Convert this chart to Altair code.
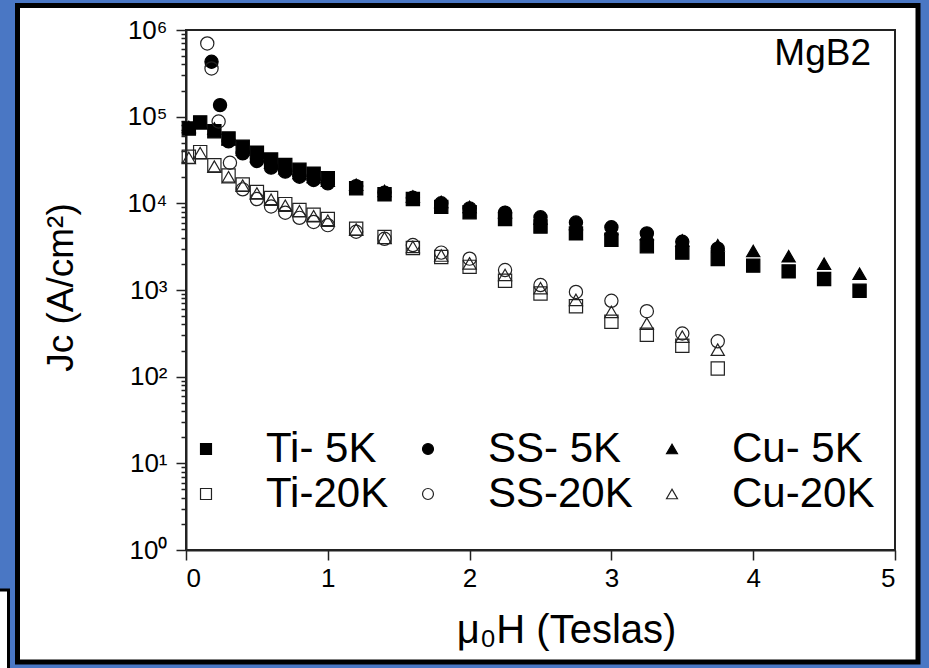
import altair as alt
import pandas as pd

# ---------------- data ----------------
SERIES = ["Ti- 5K", "SS- 5K", "Cu- 5K", "Ti-20K", "SS-20K", "Cu-20K"]
SHAPES = ["square", "circle", "triangle-up", "square", "circle", "triangle-up"]
FILLS = ["black", "black", "black", "transparent", "transparent", "transparent"]
STROKES = ["black", "black", "black", "#222222", "#222222", "#222222"]

x_main = [0.02, 0.1, 0.2, 0.3, 0.4, 0.5, 0.6, 0.7, 0.8, 0.9, 1.0, 1.2, 1.4, 1.6, 1.8,
          2.0, 2.25, 2.5, 2.75, 3.0, 3.25, 3.5, 3.75, 4.0, 4.25, 4.5, 4.75]

ti_5k = [7.3e4, 8.6e4, 6.8e4, 5.6e4, 4.5e4, 3.85e4, 3.2e4, 2.77e4, 2.44e4, 2.2e4, 1.95e4,
         1.49e4, 1.27e4, 1.12e4, 9.1e3, 7.9e3, 6.6e3, 5.4e3, 4.5e3, 3.8e3, 3.2e3, 2.7e3,
         2.28e3, 1.91e3, 1.64e3, 1.34e3, 9.8e2]
cu_5k = [7.6e4, 8.4e4, 7.3e4, 5.5e4, 4.2e4, 3.5e4, 2.95e4, 2.55e4, 2.25e4, 2.02e4, 1.82e4,
         1.64e4, 1.39e4, 1.2e4, 1.04e4, 9.1e3, 7.9e3, 6.7e3, 5.8e3, 5.06e3, 4.43e3, 3.74e3,
         3.28e3, 2.82e3, 2.45e3, 2.01e3, 1.54e3]

x_ss_5k = [0.18, 0.24, 0.3, 0.4, 0.5, 0.6, 0.7, 0.8, 0.9, 1.0, 1.2, 1.4, 1.6, 1.8, 2.0,
           2.25, 2.5, 2.75, 3.0, 3.25, 3.5, 3.75]
ss_5k = [4.3e5, 1.36e5, 5.2e4, 3.78e4, 3.08e4, 2.58e4, 2.32e4, 2.03e4, 1.86e4, 1.7e4, 1.58e4,
         1.33e4, 1.16e4, 1.0e4, 8.75e3, 7.8e3, 6.9e3, 6.0e3, 5.3e3, 4.5e3, 3.6e3, 3.0e3]

x_20k = x_main[:23]
ti_20k = [3.45e4, 3.9e4, 2.75e4, 2.1e4, 1.65e4, 1.35e4, 1.15e4, 9.8e3, 8.4e3, 7.4e3, 6.6e3,
          5.1e3, 4.1e3, 3.05e3, 2.4e3, 1.85e3, 1.28e3, 9.1e2, 6.5e2, 4.3e2, 3.05e2, 2.27e2, 1.24e2]
cu_20k = [3.35e4, 3.8e4, 2.65e4, 2.0e4, 1.6e4, 1.3e4, 1.1e4, 9.4e3, 8.1e3, 7.1e3, 6.3e3,
          5.0e3, 4.0e3, 3.15e3, 2.5e3, 2.03e3, 1.49e3, 1.05e3, 7.7e2, 5.6e2, 4.1e2, 2.9e2, 2.05e2]

x_ss_20k = [0.15, 0.18, 0.23, 0.31, 0.4, 0.5, 0.6, 0.7, 0.8, 0.9, 1.0, 1.2, 1.4, 1.6, 1.8,
            2.0, 2.25, 2.5, 2.75, 3.0, 3.25, 3.5, 3.75]
ss_20k = [7.0e5, 3.6e5, 8.8e4, 2.94e4, 1.45e4, 1.12e4, 9.2e3, 7.8e3, 6.8e3, 6.1e3, 5.6e3,
          4.7e3, 3.9e3, 3.3e3, 2.7e3, 2.3e3, 1.7e3, 1.14e3, 9.5e2, 7.5e2, 5.7e2, 3.15e2, 2.56e2]

x_ticks = [0, 0.5, 1, 1.5, 2, 2.5, 3, 3.5, 4, 4.5, 5]
y_decades = [1, 10, 100, 1000, 10000, 100000, 1000000]
y_tick_labels = ["10\u2070", "10\u00b9", "10\u00b2", "10\u00b3", "10\u2074", "10\u2075", "10\u2076"]
annotation = ["MgB2"]

# ---------------- table ----------------
rows = []
for name, xs, ys in [("Ti- 5K", x_main, ti_5k), ("SS- 5K", x_ss_5k, ss_5k),
                     ("Cu- 5K", x_main, cu_5k), ("Ti-20K", x_20k, ti_20k),
                     ("SS-20K", x_ss_20k, ss_20k), ("Cu-20K", x_20k, cu_20k)]:
    for xv, yv in zip(xs, ys):
        rows.append({"series": name, "field": xv, "jc": yv})
df = pd.DataFrame(rows)

y_values = []
for d in y_decades[:-1]:
    for m in range(1, 10):
        y_values.append(d * m)
y_values.append(y_decades[-1])

label_expr = ""
for d, lab in zip(y_decades, y_tick_labels):
    label_expr += f"datum.value == {d} ? '{lab}' : "
label_expr += "''"

FONT = "Liberation Sans"
W, H = 709, 520
PAD_L, PAD_T = 186, 30

legend = alt.Legend(
    title=None, orient="none", legendX=-1, legendY=398, columns=3, direction="horizontal",
    columnPadding=18, rowPadding=3, labelFontSize=42, labelFont=FONT,
    labelColor="black", symbolSize=120, labelOffset=39, labelLimit=400,
    symbolStrokeWidth=1.2, padding=0,
)

points = alt.Chart(df).mark_point(
    filled=True, strokeWidth=1.2, size=175, opacity=1
).encode(
    x=alt.X("field:Q",
            scale=alt.Scale(domain=[0, 5], nice=False, zero=False),
            axis=alt.Axis(
                values=x_ticks, format="d",
                labelExpr="datum.value % 1 == 0 ? datum.label : ''",
                tickSize={"condition": {"test": "datum.value % 1 == 0", "value": 10}, "value": 5},
                title="\u03bc\u2080H (Teslas)", titleFontSize=40,
                titleX=380, titleY=92, titleBaseline="alphabetic", titleAlign="center",
                labelPadding=5,
            )),
    y=alt.Y("jc:Q",
            scale=alt.Scale(type="log", domain=[1, 1e6], nice=False),
            axis=alt.Axis(
                values=y_values, labelExpr=label_expr,
                tickSize={"condition": {"test": "abs(log(datum.value)/LN10 - round(log(datum.value)/LN10)) < 0.001",
                                        "value": 10}, "value": 5},
                title="Jc (A/cm\u00b2)", titleFontSize=37, titleAngle=270,
                titleX=-114, titleY=257, titleBaseline="alphabetic", titleAlign="center",
                labelPadding=9,
            )),
    shape=alt.Shape("series:N", scale=alt.Scale(domain=SERIES, range=SHAPES), legend=legend),
    fill=alt.Fill("series:N", scale=alt.Scale(domain=SERIES, range=FILLS), legend=legend),
    stroke=alt.Stroke("series:N", scale=alt.Scale(domain=SERIES, range=STROKES), legend=legend),
)

one = alt.Data(values=[{}])

# blue slide margin: a wide unfilled stroke laid over the canvas edges
margin = alt.Chart(one).mark_rect(
    fill="transparent", stroke="#4a77c4", strokeWidth=30
).encode(
    x=alt.value(0 - PAD_L), x2=alt.value(935 - PAD_L),
    y=alt.value(-12 - PAD_T), y2=alt.value(678 - PAD_T),
)

# black frame of the white panel
frame = alt.Chart(one).mark_rect(
    fill="transparent", stroke="black", strokeWidth=5
).encode(
    x=alt.value(17.5 - PAD_L), x2=alt.value(918 - PAD_L),
    y=alt.value(5.5 - PAD_T), y2=alt.value(662 - PAD_T),
)

# small white box peeking in at the bottom-left edge of the slide
side_box = alt.Chart(one).mark_rect(
    fill="white", stroke="black", strokeWidth=3
).encode(
    x=alt.value(-20 - PAD_L), x2=alt.value(8.5 - PAD_L),
    y=alt.value(590 - PAD_T), y2=alt.value(700 - PAD_T),
)

label = alt.Chart(alt.Data(values=[{"t": annotation[0]}])).mark_text(
    align="right", baseline="alphabetic", fontSize=37, font=FONT, color="black"
).encode(
    text="t:N", x=alt.value(W - 24), y=alt.value(35),
)

chart = alt.layer(margin, frame, side_box, points, label).properties(
    width=W, height=H,
    autosize=alt.AutoSizeParams(type="none"),
    padding={"left": PAD_L, "top": PAD_T, "right": 929 - PAD_L - W, "bottom": 668 - PAD_T - H},
    background="white",
).configure_axis(
    labelFont=FONT, titleFont=FONT, labelFontSize=26, labelColor="black",
    titleColor="black", titleFontWeight="normal", domainColor="#222", domainWidth=2,
    tickColor="#222", tickWidth=1.5, grid=False, zindex=1,
).configure_view(
    stroke="#222", strokeWidth=2,
)

chart.save("out.html", embed_options={"renderer": "svg", "actions": False})
